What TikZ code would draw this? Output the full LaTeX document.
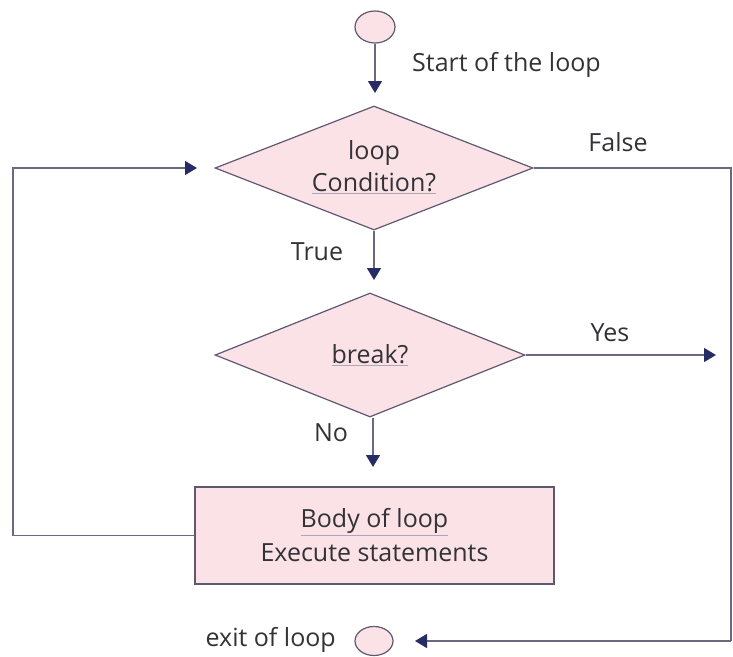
\documentclass[tikz,border=0pt]{standalone}
\usepackage{fontspec}
\setmainfont{Open Sans}
\usetikzlibrary{shapes.geometric,arrows.meta}
\definecolor{pinkfill}{RGB}{251,226,231}
\definecolor{shapeline}{RGB}{95,88,112}
\definecolor{conn}{RGB}{105,105,130}
\definecolor{navy}{RGB}{40,44,100}
\definecolor{txt}{RGB}{50,50,55}
\definecolor{ulc}{RGB}{175,165,180}
\newcommand\faintul[1]{{\color{ulc}\underline{\textcolor{txt}{#1}}}}
\begin{document}
\begin{tikzpicture}[x=1pt,y=-1pt,
  every node/.style={font=\fontsize{25}{32}\selectfont,text=txt},
  dec/.style={shape=diamond,draw=shapeline,fill=pinkfill,line width=1.2pt,inner sep=0pt,minimum width=318pt,minimum height=124pt},
  dectext/.style={align=center,inner sep=0pt},
  term/.style={shape=ellipse,draw=shapeline,fill=pinkfill,line width=1.2pt,inner sep=0pt},
  proc/.style={shape=rectangle,draw=shapeline,fill=pinkfill,line width=1.2pt,minimum width=359pt,minimum height=97pt,align=center,font=\fontsize{25}{34}\selectfont},
  flow/.style={draw=conn,line width=1.3pt,-{Triangle[length=12pt,width=14pt,color=navy]}},
  plain/.style={draw=conn,line width=1.3pt},
  lbl/.style={inner sep=0pt}]
\useasboundingbox (0,0) rectangle (733,656);
\node[term,minimum width=40pt,minimum height=32pt] (start) at (375,27) {};
\node[dec] (cond) at (374,168) {};
\node[dectext] (condtxt) at (374,167) {loop\\\faintul{Condition?}};
\node[dec,minimum width=310pt,minimum height=124pt] (brk) at (370,355) {};
\node[dectext] (brktxt) at (370,355) {\faintul{break?}};
\node[proc] (body) at (374.5,535.5) {\faintul{Body of loop}\\Execute statements};
\node[term,minimum width=38pt,minimum height=29pt] (exit) at (374,641) {};
\coordinate (t1) at (375,93);
\coordinate (t2) at (374,280);
\coordinate (t3) at (373,467);
\coordinate (yesend) at (716,355);
\coordinate (fr) at (731,168);
\coordinate (frb) at (731,641);
\coordinate (exitin) at (415,641);
\coordinate (ll) at (13,535.5);
\coordinate (lu) at (13,168);
\coordinate (backin) at (197,168);
\draw[flow] (start.south) -- (t1);
\draw[flow] (cond.south) -- (t2);
\draw[flow] (brk.south -| t3) -- (t3);
\draw[flow] (brk.east) -- (yesend);
\draw[plain] (cond.east) -- (fr) -- (frb);
\draw[flow] (frb) -- (exitin);
\draw[flow] (body.west) -- (ll) -- (lu) -- (backin);
\node[lbl,anchor=west] (lstart) at (412,65) {Start of the loop};
\node[lbl] (lfalse) at (618,142) {False};
\node[lbl] (ltrue) at (317,252) {True};
\node[lbl] (lyes) at (610,333) {Yes};
\node[lbl] (lno) at (331,433) {No};
\node[lbl,anchor=east] (lexit) at (336,640) {exit of loop};
\end{tikzpicture}
\end{document}
